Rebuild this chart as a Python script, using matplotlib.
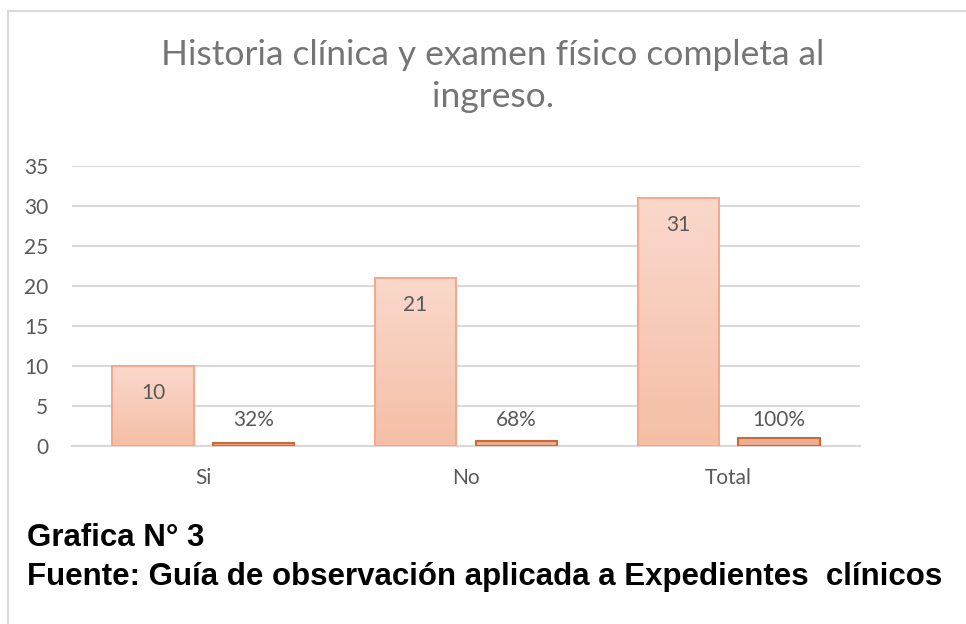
import matplotlib
matplotlib.use("Agg")
import matplotlib.pyplot as plt
import numpy as np
from matplotlib.lines import Line2D
from matplotlib.colors import LinearSegmentedColormap

categories = ["Si", "No", "Total"]
counts = [10, 21, 31]
percents = [0.32, 0.68, 1.00]
percent_labels = ["32%", "68%", "100%"]
yticks = [0, 5, 10, 15, 20, 25, 30, 35]
title = "Historia clínica y examen físico completa al\ningreso."
caption1 = "Grafica N° 3"
caption2 = "Fuente: Guía de observación aplicada a Expedientes  clínicos"

W, H = 966, 624
fig = plt.figure(figsize=(W / 100, H / 100), dpi=100)
fig.patch.set_facecolor("white")

def fx(px):
    return px / W

def fy(py):
    return 1 - py / H

# outer frame (left and top)
fig.add_artist(Line2D([fx(7.5), fx(7.5)], [fy(11), 0], color="#D9D9D9", lw=1.5, transform=fig.transFigure))
fig.add_artist(Line2D([fx(7.5), 1], [fy(11), fy(11)], color="#D9D9D9", lw=1.5, transform=fig.transFigure))

ax = fig.add_axes([fx(72), fy(446), fx(860) - fx(72), fy(166) - fy(446)])
ax.set_xlim(-0.5, 2.5)
ax.set_ylim(0, 35)
ax.set_yticks(yticks)
ax.yaxis.grid(True, color="#D9D9D9", lw=1.5)
ax.set_axisbelow(True)
for s in ["top", "right", "left"]:
    ax.spines[s].set_visible(False)
ax.spines["bottom"].set_color("#D9D9D9")
ax.spines["bottom"].set_linewidth(1.5)
lab_font = ["Lato", "DejaVu Sans"]
ax.tick_params(axis="both", length=0, labelsize=15, labelcolor="#595959")
ax.tick_params(axis="y", pad=17)
ax.tick_params(axis="x", pad=16)

x = np.arange(len(categories))
ax.set_xticks(x)
ax.set_xticklabels(categories)
for lab in ax.get_xticklabels() + ax.get_yticklabels():
    lab.set_family(lab_font)

bw = 0.31
off = 0.192
bars1 = ax.bar(x - off, counts, width=bw, facecolor="none", edgecolor="#F2A98C", lw=1.5, zorder=3)
bars2 = ax.bar(x + off, percents, width=bw, facecolor="#EBAE96", edgecolor="#D0692E", lw=1.5, zorder=3)

# gradient fill for first series
grad = np.linspace(0, 1, 256).reshape(-1, 1)
cmap = LinearSegmentedColormap.from_list("g", ["#F5BFA6", "#FAD8CC"])
for b in bars1:
    x0, y0 = b.get_x(), b.get_y()
    w, h = b.get_width(), b.get_height()
    im = ax.imshow(grad, cmap=cmap, origin="lower", aspect="auto",
                   extent=[x0, x0 + w, y0, y0 + h], zorder=2.5)
    im.set_clip_path(b)
ax.set_xlim(-0.5, 2.5)
ax.set_ylim(0, 35)

for b, v in zip(bars1, counts):
    ax.annotate(str(v), (b.get_x() + b.get_width() / 2, b.get_height()),
                xytext=(0, -19.5), textcoords="offset points", ha="center", va="center",
                fontsize=15, color="#595959", family=lab_font, zorder=5)
for b, t in zip(bars2, percent_labels):
    ax.annotate(t, (b.get_x() + b.get_width() / 2, 0),
                xytext=(0, 18.5), textcoords="offset points", ha="center", va="center",
                fontsize=15, color="#595959", family=lab_font, zorder=5)

fig.text(fx(493), fy(76), title, ha="center", va="center", fontsize=25.5, color="#757575",
         family=lab_font, linespacing=1.38)

narrow = ["Liberation Sans Narrow", "Liberation Sans", "DejaVu Sans"]
fig.text(fx(27), fy(538), caption1, ha="left", va="center", fontsize=22.5, fontweight="bold",
         color="black", family=narrow)
fig.text(fx(27), fy(577), caption2, ha="left", va="center", fontsize=22.5, fontweight="bold",
         color="black", family=narrow)

fig.savefig("out.png", dpi=100, facecolor="white")
